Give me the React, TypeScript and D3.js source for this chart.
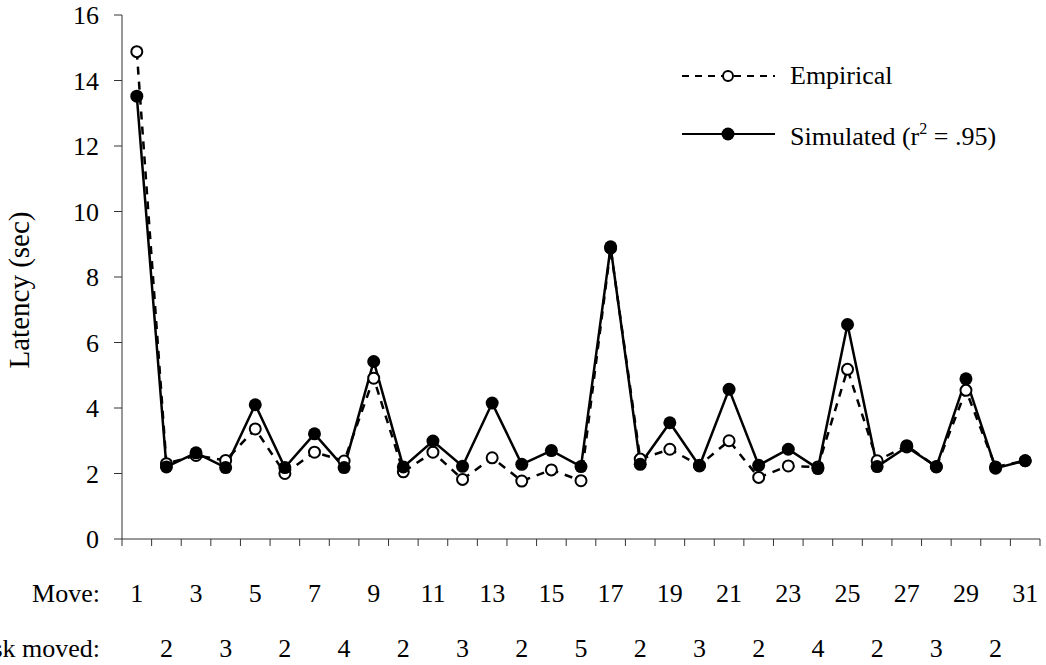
import React from "react";
import * as d3 from "d3";

const moves: number[] = d3.range(1, 32);
const empirical: number[] = [
  14.88, 2.3, 2.55, 2.4, 3.36, 2.0, 2.65, 2.38, 4.91, 2.05,
  2.65, 1.82, 2.48, 1.77, 2.11, 1.78, 8.88, 2.44, 2.74, 2.25,
  3.0, 1.88, 2.23, 2.2, 5.18, 2.39, 2.85, 2.2, 4.54, 2.2, 2.39,
];
const simulated: number[] = [
  13.52, 2.2, 2.63, 2.18, 4.1, 2.18, 3.21, 2.18, 5.42, 2.2,
  2.99, 2.22, 4.15, 2.28, 2.7, 2.21, 8.92, 2.28, 3.55, 2.23,
  4.57, 2.25, 2.74, 2.15, 6.55, 2.21, 2.81, 2.21, 4.89, 2.16, 2.39,
];
const yTicks: number[] = [0, 2, 4, 6, 8, 10, 12, 14, 16];
const moveLabels: number[] = [1, 3, 5, 7, 9, 11, 13, 15, 17, 19, 21, 23, 25, 27, 29, 31];
const diskMoves: number[] = [2, 4, 6, 8, 10, 12, 14, 16, 18, 20, 22, 24, 26, 28, 30];
const diskLabels: number[] = [2, 3, 2, 4, 2, 3, 2, 5, 2, 3, 2, 4, 2, 3, 2];

const W = 1046;
const H = 665;
const FONT = "'Liberation Serif', 'Times New Roman', serif";
const FS = 26;

export default function App() {
  const x = d3.scaleBand<number>().domain(moves).range([122, 1040]).padding(0);
  const bw = x.bandwidth();
  const cx = (m: number) => (x(m) as number) + bw / 2;
  const y = d3.scaleLinear().domain([0, 16]).range([539, 15]);

  const line = d3
    .line<number>()
    .x((_, i) => cx(moves[i]))
    .y((d) => y(d));

  const boundaries = d3.range(0, 32).map((i) => 122 + i * bw);

  return (
    <svg
      width={W}
      height={H}
      style={{ position: "absolute", left: 0, top: 0, background: "#fff" }}
      fontFamily={FONT}
    >
      {/* axes */}
      <line x1={122} x2={122} y1={y(16)} y2={y(0)} stroke="#333" strokeWidth={1} />
      <line x1={122} x2={1040} y1={y(0)} y2={y(0)} stroke="#333" strokeWidth={1} />
      {yTicks.map((t) => (
        <g key={"yt" + t}>
          <line x1={114} x2={122} y1={y(t)} y2={y(t)} stroke="#333" strokeWidth={1} />
          <text x={99} y={y(t) + 9} textAnchor="end" fontSize={FS} fill="#000">
            {t}
          </text>
        </g>
      ))}
      {boundaries.map((b, i) => (
        <line key={"xt" + i} x1={b} x2={b} y1={y(0)} y2={y(0) + 7} stroke="#333" strokeWidth={1} />
      ))}
      <text
        transform={`translate(29, 290) rotate(-90)`}
        textAnchor="middle"
        fontSize={29}
        fill="#000"
      >
        Latency (sec)
      </text>

      {/* x labels */}
      <text x={100} y={602} textAnchor="end" fontSize={FS} fill="#000">
        Move:
      </text>
      {moveLabels.map((m) => (
        <text key={"ml" + m} x={cx(m)} y={602} textAnchor="middle" fontSize={FS} fill="#000">
          {m}
        </text>
      ))}
      <text x={100} y={657} textAnchor="end" fontSize={FS} fill="#000">
        Disk moved:
      </text>
      {diskMoves.map((m, i) => (
        <text key={"dl" + m} x={cx(m)} y={657} textAnchor="middle" fontSize={FS} fill="#000">
          {diskLabels[i]}
        </text>
      ))}

      {/* series */}
      <path d={line(empirical) || ""} fill="none" stroke="#000" strokeWidth={2.5} strokeDasharray="8,7" />
      <path d={line(simulated) || ""} fill="none" stroke="#000" strokeWidth={2.5} />
      {empirical.map((v, i) => (
        <circle key={"e" + i} cx={cx(moves[i])} cy={y(v)} r={5.5} fill="#fff" stroke="#000" strokeWidth={2} />
      ))}
      {simulated.map((v, i) => (
        <circle key={"s" + i} cx={cx(moves[i])} cy={y(v)} r={6.5} fill="#000" />
      ))}

      {/* legend */}
      <line x1={682} x2={775} y1={76} y2={76} stroke="#000" strokeWidth={1.8} strokeDasharray="7,6" />
      <circle cx={728} cy={76} r={5} fill="#fff" stroke="#000" strokeWidth={2} />
      <text x={790} y={84} fontSize={FS} fill="#000">
        Empirical
      </text>
      <line x1={682} x2={775} y1={134} y2={134} stroke="#000" strokeWidth={1.8} />
      <circle cx={728} cy={134} r={6.5} fill="#000" />
      <text x={790} y={145} fontSize={FS} fill="#000">
        Simulated (r
        <tspan fontSize={16} dy={-11}>2</tspan>
        <tspan dy={11}> = .95)</tspan>
      </text>
    </svg>
  );
}
